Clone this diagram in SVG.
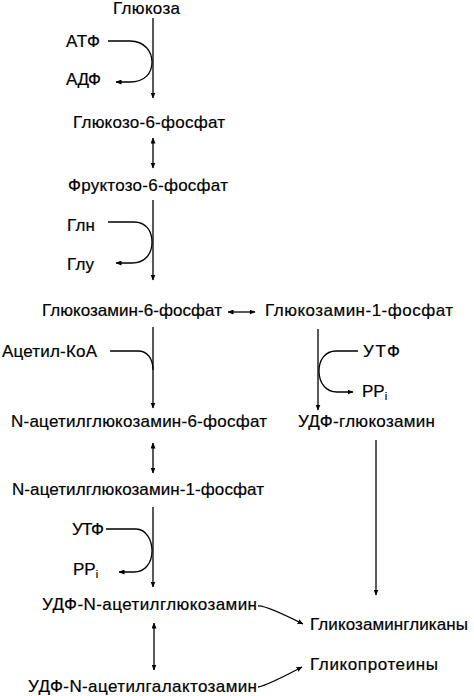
<svg xmlns="http://www.w3.org/2000/svg" width="474" height="696" viewBox="0 0 474 696">
<style>
text{font-family:"Liberation Sans",Arial,sans-serif;font-size:17px;fill:#000;stroke:#000;stroke-width:0.2}
.c{fill:none;stroke:#000;stroke-width:1.3}
</style>
<defs>
<marker id="ah" markerUnits="userSpaceOnUse" viewBox="0 0 6 5" refX="5.5" refY="2.5" markerWidth="6" markerHeight="5" orient="auto-start-reverse">
<path d="M0,0 L6,2.5 L0,5 Z" fill="#000"/>
</marker>
</defs>
<rect width="474" height="696" fill="#fff"/>
<g id="nodes">
<g id="n-glucose"><text x="113" y="14" textLength="67">Глюкоза</text></g>
<g id="n-atp1"><text x="66" y="47" textLength="34">АТФ</text></g>
<g id="n-adp1"><text x="66" y="85" textLength="35">АДФ</text></g>
<g id="n-g6p"><text x="73" y="128" textLength="152">Глюкозо-6-фосфат</text></g>
<g id="n-f6p"><text x="68" y="191" textLength="160">Фруктозо-6-фосфат</text></g>
<g id="n-gln"><text x="67" y="231" textLength="28">Глн</text></g>
<g id="n-glu"><text x="67" y="270" textLength="27">Глу</text></g>
<g id="n-gn6p"><text x="42" y="316" textLength="180">Глюкозамин-6-фосфат</text></g>
<g id="n-gn1p"><text x="265" y="316" textLength="188">Глюкозамин-1-фосфат</text></g>
<g id="n-acoa"><text x="2" y="357" textLength="95">Ацетил-КоА</text></g>
<g id="n-utp1"><text x="363" y="357" textLength="37">УТФ</text></g>
<g id="n-ppi1"><text x="362" y="397">PP<tspan font-size="11" dy="3">i</tspan></text></g>
<g id="n-nag6p"><text x="11" y="427" textLength="256">N-ацетилглюкозамин-6-фосфат</text></g>
<g id="n-udpgn"><text x="298" y="427" textLength="137">УДФ-глюкозамин</text></g>
<g id="n-nag1p"><text x="12" y="495" textLength="252">N-ацетилглюкозамин-1-фосфат</text></g>
<g id="n-utp2"><text x="72" y="535" textLength="32">УТФ</text></g>
<g id="n-ppi2"><text x="73" y="575">PP<tspan font-size="11" dy="3">i</tspan></text></g>
<g id="n-udpnag"><text x="42" y="610" textLength="215">УДФ-N-ацетилглюкозамин</text></g>
<g id="n-gag"><text x="310" y="630" textLength="158">Гликозамингликаны</text></g>
<g id="n-gp"><text x="310" y="670" textLength="128">Гликопротеины</text></g>
<g id="n-udpngal"><text x="28" y="692" textLength="229">УДФ-N-ацетилгалактозамин</text></g>
</g>
<g id="connectors">
<path class="c" d="M153,18 V98" marker-end="url(#ah)"/>
<path class="c" d="M108,41 H130 C145,41 152,52 152,62 C152,73 145,82 130,82 H116" marker-end="url(#ah)"/>
<path class="c" d="M153,138 V168" marker-start="url(#ah)" marker-end="url(#ah)"/>
<path class="c" d="M153,200 V280" marker-end="url(#ah)"/>
<path class="c" d="M108,222 H134 C146,222 152,231 152,242 C152,254 145,263 132,263 H116" marker-end="url(#ah)"/>
<path class="c" d="M228,312 H255" marker-start="url(#ah)" marker-end="url(#ah)"/>
<path class="c" d="M153,327 V408" marker-end="url(#ah)"/>
<path class="c" d="M110,351 H138 C147,351 153,358 153,370"/>
<path class="c" d="M318,329 V410" marker-end="url(#ah)"/>
<path class="c" d="M358,351 H336 C325,351 319,360 319,371 C319,383 326,392 337,392 H353" marker-end="url(#ah)"/>
<path class="c" d="M153,443 V473" marker-start="url(#ah)" marker-end="url(#ah)"/>
<path class="c" d="M153,507 V587" marker-end="url(#ah)"/>
<path class="c" d="M106,529 H136 C146,529 152,540 152,551 C152,563 145,572 134,572 H119" marker-end="url(#ah)"/>
<path class="c" d="M376,440 V595" marker-end="url(#ah)"/>
<path class="c" d="M154,623 V670" marker-start="url(#ah)" marker-end="url(#ah)"/>
<path class="c" d="M258,606 Q265,605 303,624" marker-end="url(#ah)"/>
<path class="c" d="M258,687 Q266,686 302,667" marker-end="url(#ah)"/>
</g>
</svg>
